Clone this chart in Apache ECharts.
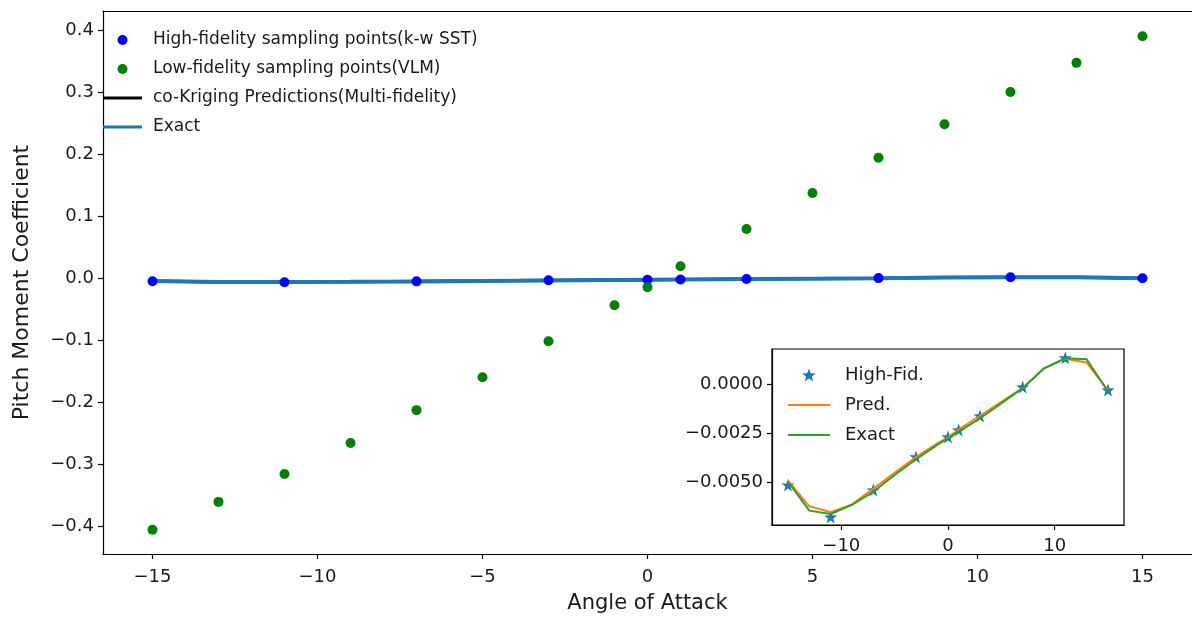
<!DOCTYPE html>
<html>
<head>
<meta charset="utf-8">
<title>Pitch Moment Coefficient</title>
<script src="https://cdn.jsdelivr.net/npm/echarts@6/dist/echarts.min.js"></script>
<style>
    html, body {margin: 0; padding: 0; background: #fff;}
    #chart {width: 1192px; height: 621px;}
</style>
</head>
<body>
<div id="chart"></div>
<script>
// high fidelity samples (k-w SST)
var hfX = [-15, -11, -7, -3, 0, 1, 3, 7, 11, 15];
var hfY = [-0.00512, -0.00674, -0.00537, -0.00369, -0.00268, -0.00232, -0.00161, -0.00014, 0.00134, -0.00029];

// low fidelity samples (VLM)
var lfX = [-15, -13, -11, -9, -7, -5, -3, -1, 0, 1, 3, 5, 7, 9, 11, 13, 15];
var lfY = [-0.406, -0.361, -0.316, -0.266, -0.213, -0.160, -0.102, -0.044, -0.015, 0.019, 0.079, 0.137, 0.194, 0.248, 0.300, 0.347, 0.390];

// co-kriging prediction and exact curve, on the lfX points
var predY = [-0.0049, -0.0062, -0.0065, -0.0061, -0.0053, -0.0045, -0.0037, -0.0030, -0.0027, -0.0023, -0.0016, -0.0009, -0.0002, 0.0008, 0.0013, 0.0011, -0.0003];
var exactY = [-0.00495, -0.00642, -0.00659, -0.00613, -0.00546, -0.00461, -0.00381, -0.00308, -0.00274, -0.00241, -0.00173, -0.00097, -0.0002, 0.00081, 0.00132, 0.00127, -0.00038];

var mainXTicks = [-15, -10, -5, 0, 5, 10, 15];
var mainYTicks = [-0.4, -0.3, -0.2, -0.1, 0, 0.1, 0.2, 0.3, 0.4];
var insetXTicks = [-10, 0, 10];
var insetYTicks = [-0.005, -0.0025, 0];

function pairs(xs, ys) {
    var out = [];
    for (var i = 0; i < xs.length; i++) {
        out.push([xs[i], ys[i]]);
    }
    return out;
}

function minus(s) {
    return String(s).replace('-', '\u2212');
}

var fontFam = 'DejaVu Sans';
var txt = '#1a1a1a';
var starPath = 'path://M0,-10L2.35,-3.24L9.51,-3.09L3.8,1.24L5.88,8.09L0,4L-5.88,8.09L-3.8,1.24L-9.51,-3.09L-2.35,-3.24Z';
var barIcon = 'path://M0,0L40,0L40,3L0,3Z';

var spine = {show: true, onZero: false, lineStyle: {color: '#000', width: 1.2}};

function ticks(vals) {
    return {show: true, length: 5, lineStyle: {color: '#000', width: 1.2}, customValues: vals};
}

var option = {
    animation: false,
    backgroundColor: '#fff',
    textStyle: {fontFamily: fontFam},
    grid: [
        {left: 103, top: 11, width: 1090, height: 543},
        {left: 772, top: 349, width: 352, height: 176, show: true, backgroundColor: '#fff', borderColor: '#000', borderWidth: 1.2, z: 10}
    ],
    legend: [{
        orient: 'vertical',
        left: 103,
        top: 30,
        padding: 0,
        itemWidth: 39,
        itemHeight: 10,
        itemGap: 9,
        textStyle: {fontFamily: fontFam, fontSize: 17, color: txt, lineHeight: 20, padding: [0, 0, 0, 6]},
        data: [
            {name: 'High-fidelity sampling points(k-w SST)', icon: 'circle'},
            {name: 'Low-fidelity sampling points(VLM)', icon: 'circle'},
            {name: 'co-Kriging Predictions(Multi-fidelity)', icon: barIcon},
            {name: 'Exact', icon: barIcon}
        ]
    }, {
        orient: 'vertical',
        left: 788,
        top: 365,
        padding: 0,
        itemWidth: 42,
        itemHeight: 13,
        itemGap: 10,
        z: 20,
        textStyle: {fontFamily: fontFam, fontSize: 18, color: txt, lineHeight: 20, padding: [0, 0, 0, 10]},
        data: [
            {name: 'High-Fid.', icon: starPath},
            {name: 'Pred.', icon: 'path://M0,0L40,0L40,2L0,2Z'},
            {name: 'Exact ', icon: 'path://M0,0L40,0L40,2L0,2Z'}
        ]
    }],
    xAxis: [{
        gridIndex: 0,
        type: 'value',
        min: -16.5,
        max: 16.5,
        name: 'Angle of Attack',
        nameLocation: 'middle',
        nameGap: 39,
        nameTextStyle: {fontFamily: fontFam, fontSize: 21, color: txt},
        axisLine: spine,
        axisTick: ticks(mainXTicks),
        axisLabel: {fontSize: 18, color: txt, margin: 14, customValues: mainXTicks, formatter: function (v) { return minus(v); }},
        splitLine: {show: false}
    }, {
        // top spine of the main frame
        gridIndex: 0,
        type: 'value',
        position: 'top',
        min: -16.5,
        max: 16.5,
        axisLine: spine,
        axisTick: {show: false},
        axisLabel: {show: false},
        splitLine: {show: false}
    }, {
        gridIndex: 1,
        type: 'value',
        min: -16.5,
        max: 16.5,
        axisLine: spine,
        axisTick: ticks(insetXTicks),
        axisLabel: {fontSize: 18, color: txt, margin: 12, customValues: insetXTicks, formatter: function (v) { return minus(v); }},
        splitLine: {show: false},
        z: 10
    }],
    yAxis: [{
        gridIndex: 0,
        type: 'value',
        min: -0.445,
        max: 0.4306,
        name: 'Pitch Moment Coefficient',
        nameLocation: 'middle',
        nameGap: 70,
        nameTextStyle: {fontFamily: fontFam, fontSize: 22, color: txt},
        axisLine: spine,
        axisTick: ticks(mainYTicks),
        axisLabel: {fontSize: 18, color: txt, margin: 9, customValues: mainYTicks, formatter: function (v) { return minus(v.toFixed(1)); }},
        splitLine: {show: false}
    }, {
        gridIndex: 1,
        type: 'value',
        min: -0.00715,
        max: 0.00179,
        axisLine: spine,
        axisTick: ticks(insetYTicks),
        axisLabel: {fontSize: 18, color: txt, margin: 9, customValues: insetYTicks, formatter: function (v) { return minus(v.toFixed(4)); }},
        splitLine: {show: false},
        z: 10
    }],
    series: [{
        name: 'co-Kriging Predictions(Multi-fidelity)',
        type: 'line',
        xAxisIndex: 0, yAxisIndex: 0,
        symbol: 'none',
        data: pairs(lfX, predY),
        itemStyle: {color: '#000'},
        lineStyle: {color: '#000', width: 3},
        z: 2
    }, {
        name: 'Exact',
        type: 'line',
        xAxisIndex: 0, yAxisIndex: 0,
        symbol: 'none',
        data: pairs(lfX, exactY),
        itemStyle: {color: '#1f77b4'},
        lineStyle: {color: '#1f77b4', width: 4},
        z: 3
    }, {
        name: 'High-fidelity sampling points(k-w SST)',
        type: 'scatter',
        xAxisIndex: 0, yAxisIndex: 0,
        symbol: 'circle',
        symbolSize: 10,
        data: pairs(hfX, hfY),
        itemStyle: {color: '#0000ff', opacity: 1},
        z: 4
    }, {
        name: 'Low-fidelity sampling points(VLM)',
        type: 'scatter',
        xAxisIndex: 0, yAxisIndex: 0,
        symbol: 'circle',
        symbolSize: 10,
        data: pairs(lfX, lfY),
        itemStyle: {color: '#008000', opacity: 1},
        z: 4
    }, {
        name: 'High-Fid.',
        type: 'scatter',
        xAxisIndex: 2, yAxisIndex: 1,
        symbol: starPath,
        symbolSize: 13,
        data: pairs(hfX, hfY),
        itemStyle: {color: '#1f77b4', opacity: 1},
        z: 11
    }, {
        name: 'Pred.',
        type: 'line',
        xAxisIndex: 2, yAxisIndex: 1,
        symbol: 'none',
        data: pairs(lfX, predY),
        itemStyle: {color: '#ff7f0e'},
        lineStyle: {color: '#ff7f0e', width: 2},
        z: 12
    }, {
        name: 'Exact ',
        type: 'line',
        xAxisIndex: 2, yAxisIndex: 1,
        symbol: 'none',
        data: pairs(lfX, exactY),
        itemStyle: {color: '#2ca02c'},
        lineStyle: {color: '#2ca02c', width: 2},
        z: 13
    }]
};

var chart = echarts.init(document.getElementById('chart'));
chart.setOption(option);
window.addEventListener('resize', function () {
    chart.resize();
});
</script>
</body>
</html>
